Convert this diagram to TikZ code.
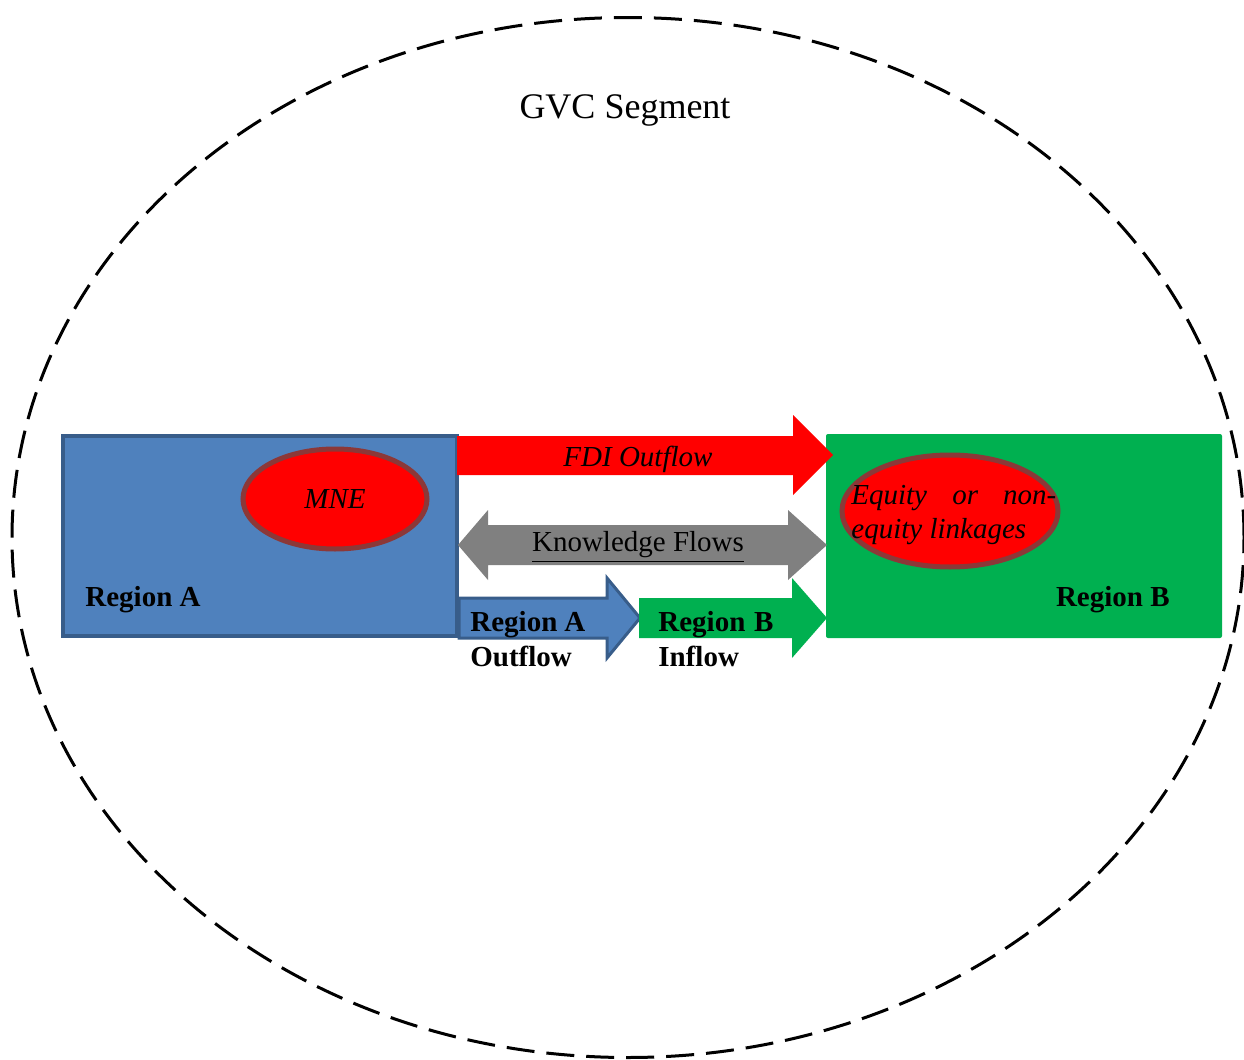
\documentclass[tikz,border=0pt]{standalone}
\usepackage{fontspec}
\setmainfont{Liberation Serif}
\usepackage{tikz}
\usetikzlibrary{arrows.meta,positioning,shapes.geometric}
\definecolor{regA}{RGB}{79,129,189}
\definecolor{regAline}{RGB}{56,93,138}
\definecolor{regB}{RGB}{0,176,80}
\definecolor{blobline}{RGB}{140,56,56}

\begin{document}
\begin{tikzpicture}[x=0.5pt,y=-0.5pt,>=Stealth,
  every node/.append style={font=\fontsize{14.5}{17.5}\selectfont,inner sep=0pt},
  reg/.style={minimum width=#1,minimum height=100pt},
  blob/.style={ellipse,draw=blobline,line width=2.5pt,fill=red},
  flow/.style={line join=miter}]
\useasboundingbox (0,0) rectangle (1244,1060);
% GVC segment
\node[ellipse,draw,line width=1.5pt,dash pattern=on 14pt off 6pt,minimum width=616pt,minimum height=520pt] (gvc) at (628,537.5) {};
\node (title) at (625,110) {\fontsize{18}{21}\selectfont GVC Segment};
% regions
\node[reg=197pt,fill=regA,draw=regAline,line width=2pt] (A) at (260,536) {};
\node[reg=198pt,minimum height=102pt,fill=regB,rounded corners=1pt] (B) at (1024,536) {};
\node[blob,minimum width=92pt,minimum height=50pt] (mne) at (335,499) {\itshape MNE};
\node[blob,minimum width=108pt,minimum height=56pt] (eq) at (950,511) {};
\node[anchor=west,align=left,font=\itshape\fontsize{14.5}{17}\selectfont] (eqt) at (851,515) {\makebox[102.5pt][s]{Equity or non-}\\equity linkages};
\node[anchor=west,font=\bfseries\fontsize{14.5}{17}\selectfont] (la) at (85,600) {Region A};
\node[anchor=east,font=\bfseries\fontsize{14.5}{17}\selectfont] (lb) at (1170,600) {Region B};
% flows
\fill[red,flow] (457,436) -- (793,436) -- (793,415) -- (833,455) -- (793,495) -- (793,475) -- (457,475) -- cycle;
\node (fdi) at (638,459) {\itshape FDI Outflow};
\fill[gray,flow] (458,545) -- (488,510) -- (488,525) -- (788,525) -- (788,510) -- (827,545) -- (788,580) -- (788,565) -- (488,565) -- (488,580) -- cycle;
\node (kf) at (638,547) {\underline{Knowledge Flows}};
\filldraw[fill=regA,draw=regAline,line width=1.5pt,flow] (459,598) -- (607,598) -- (607,578) -- (640,618) -- (607,658) -- (607,638) -- (459,638) -- cycle;
\fill[regB,flow] (639,598) -- (792,598) -- (792,578) -- (827,618) -- (792,658) -- (792,638) -- (639,638) -- cycle;
\node[anchor=west,align=left,font=\bfseries\fontsize{14.5}{17.5}\selectfont] (outA) at (470,639) {\makebox[57.5pt][s]{Region A}\\Outflow};
\node[anchor=west,align=left,font=\bfseries\fontsize{14.5}{17.5}\selectfont] (inB) at (658,639) {\makebox[57.5pt][s]{Region B}\\Inflow};
\end{tikzpicture}
\end{document}
